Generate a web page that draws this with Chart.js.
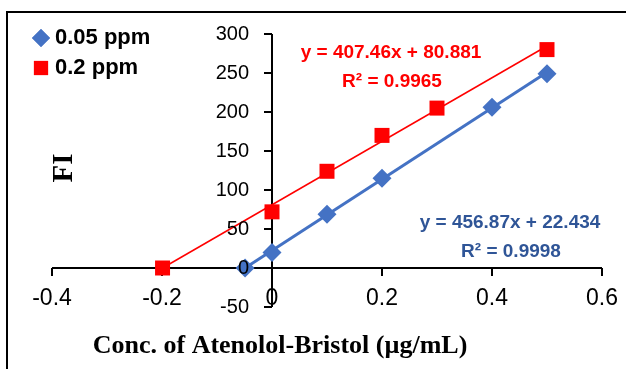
<!DOCTYPE html>
<html lang="en">
<head>
    <meta charset="UTF-8">
    <title>FI vs Conc. of Atenolol-Bristol</title>
    <script src="https://cdn.jsdelivr.net/npm/chart.js"></script>
    <style>
        body {
            margin: 0;
            background: #fff;
        }
        .wrap {
            position: relative;
            width: 626px;
            height: 369px;
            overflow: hidden;
        }
        .frame {
            position: absolute;
            left: 6px;
            top: 11px;
            width: 700px;
            height: 400px;
            border-left: 2px solid #000;
            border-top: 2px solid #000;
        }
        canvas {
            position: absolute;
            left: 0;
            top: 0;
        }
    </style>
</head>
<body>
    <div class="wrap">
        <div class="frame"></div>
        <canvas id="fiChart" width="626" height="369"></canvas>
    </div>

    <script>
        // Tick values of the two axes
        const xTicks = [-0.4, -0.2, 0, 0.2, 0.4, 0.6];
        const yTicks = [-50, 0, 50, 100, 150, 200, 250, 300];

        const seriesNames = ['0.05 ppm', '0.2 ppm'];

        // 0.05 ppm series
        const conc005 = [-0.049, 0, 0.1, 0.2, 0.4, 0.5];
        const fi005 = [0, 20, 69, 115, 206, 249];

        // 0.2 ppm series
        const conc02 = [-0.199, 0, 0.1, 0.2, 0.3, 0.5];
        const fi02 = [0, 72, 124, 170, 205, 280];

        // trendline end points
        const fit005X = [-0.049, 0.5];
        const fit005Y = [0, 251];
        const fit02X = [-0.199, 0.5];
        const fit02Y = [0, 284.6];

        const eq005 = ['y = 456.87x + 22.434', 'R\u00b2 = 0.9998'];
        const eq02 = ['y = 407.46x + 80.881', 'R\u00b2 = 0.9965'];

        const blue = '#4472C4';
        const red = '#FF0000';
        const blueText = '#2F5597';

        function pts(xs, ys) {
            return xs.map((v, i) => ({ x: v, y: ys[i] }));
        }

        // axes crossing at zero, drawn with the chart's own scales
        const crossAxes = {
            id: 'crossAxes',
            beforeDatasetsDraw(chart) {
                const { ctx, scales: { x, y } } = chart;
                const x0 = x.getPixelForValue(0);
                const y0 = y.getPixelForValue(0);
                ctx.save();
                ctx.strokeStyle = '#000';
                ctx.lineWidth = 2;
                ctx.beginPath();
                ctx.moveTo(x.getPixelForValue(xTicks[0]), y0);
                ctx.lineTo(x.getPixelForValue(xTicks[xTicks.length - 1]), y0);
                xTicks.forEach(v => {
                    const px = x.getPixelForValue(v);
                    ctx.moveTo(px, y0);
                    ctx.lineTo(px, y0 + 8);
                });
                ctx.moveTo(x0, y.getPixelForValue(yTicks[0]));
                ctx.lineTo(x0, y.getPixelForValue(yTicks[yTicks.length - 1]));
                yTicks.forEach(v => {
                    const py = y.getPixelForValue(v);
                    ctx.moveTo(x0 - 8, py);
                    ctx.lineTo(x0, py);
                });
                ctx.stroke();
                ctx.restore();
            },
            afterDatasetsDraw(chart) {
                const { ctx, scales: { x, y } } = chart;
                const x0 = x.getPixelForValue(0);
                const y0 = y.getPixelForValue(0);
                ctx.save();
                ctx.fillStyle = '#000';

                // y tick labels
                ctx.font = '20px "Liberation Sans", Arial, sans-serif';
                ctx.textAlign = 'right';
                ctx.textBaseline = 'middle';
                yTicks.forEach(v => {
                    ctx.fillText(String(v), x0 - 23, y.getPixelForValue(v));
                });

                // x tick labels
                ctx.font = '23px "Liberation Sans", Arial, sans-serif';
                ctx.textAlign = 'center';
                xTicks.forEach(v => {
                    ctx.fillText(String(v), x.getPixelForValue(v), y0 + 31);
                });

                // axis titles
                ctx.font = 'bold 26px "Liberation Serif", "Times New Roman", serif';
                ctx.textBaseline = 'alphabetic';
                ctx.fillText('Conc. of Atenolol-Bristol (\u00b5g/mL)', 280, 353);
                ctx.save();
                ctx.translate(65, 168);
                ctx.rotate(-Math.PI / 2);
                ctx.textBaseline = 'middle';
                ctx.font = 'bold 29px "Liberation Serif", "Times New Roman", serif';
                ctx.fillText('FI', 0, 0);
                ctx.restore();

                // trendline equations
                ctx.textBaseline = 'middle';
                ctx.font = 'bold 19px "Liberation Sans", Arial, sans-serif';
                ctx.fillStyle = red;
                ctx.fillText(eq02[0], 391, 53);
                ctx.fillText(eq02[1], 392, 82);
                ctx.fillStyle = blueText;
                ctx.fillText(eq005[0], 510, 223);
                ctx.fillText(eq005[1], 511, 252);

                // legend
                const rows = [38, 68];
                ctx.fillStyle = blue;
                ctx.beginPath();
                Chart.helpers.drawPoint(ctx, { pointStyle: 'rectRot', radius: 9, borderWidth: 0 }, 41, rows[0]);
                ctx.fill();
                ctx.fillStyle = red;
                ctx.beginPath();
                Chart.helpers.drawPoint(ctx, { pointStyle: 'rect', radius: 10, borderWidth: 0 }, 41, rows[1]);
                ctx.fill();
                ctx.fillStyle = '#000';
                ctx.textAlign = 'left';
                ctx.font = 'bold 22px "Liberation Sans", Arial, sans-serif';
                ctx.fillText(seriesNames[0], 55, rows[0]);
                ctx.fillText(seriesNames[1], 55, rows[1]);

                ctx.restore();
            }
        };

        new Chart(document.getElementById('fiChart'), {
            type: 'scatter',
            data: {
                datasets: [
                    {
                        label: seriesNames[0],
                        data: pts(conc005, fi005),
                        pointStyle: 'rectRot',
                        pointRadius: 9.5,
                        backgroundColor: blue,
                        borderColor: blue,
                        borderWidth: 0
                    },
                    {
                        label: seriesNames[1],
                        data: pts(conc02, fi02),
                        pointStyle: 'rect',
                        pointRadius: 10.6,
                        backgroundColor: red,
                        borderColor: red,
                        borderWidth: 0
                    },
                    {
                        label: 'Linear (' + seriesNames[0] + ')',
                        data: pts(fit005X, fit005Y),
                        showLine: true,
                        pointRadius: 0,
                        borderColor: blue,
                        borderWidth: 3
                    },
                    {
                        label: 'Linear (' + seriesNames[1] + ')',
                        data: pts(fit02X, fit02Y),
                        showLine: true,
                        pointRadius: 0,
                        borderColor: red,
                        borderWidth: 1.5
                    }
                ]
            },
            options: {
                responsive: false,
                animation: false,
                layout: {
                    padding: { left: 52, right: 24, top: 34, bottom: 62 }
                },
                scales: {
                    x: { type: 'linear', min: -0.4, max: 0.6, display: false },
                    y: { type: 'linear', min: -50, max: 300, display: false }
                },
                plugins: {
                    legend: { display: false },
                    tooltip: { enabled: false }
                }
            },
            plugins: [crossAxes]
        });
    </script>
</body>
</html>
